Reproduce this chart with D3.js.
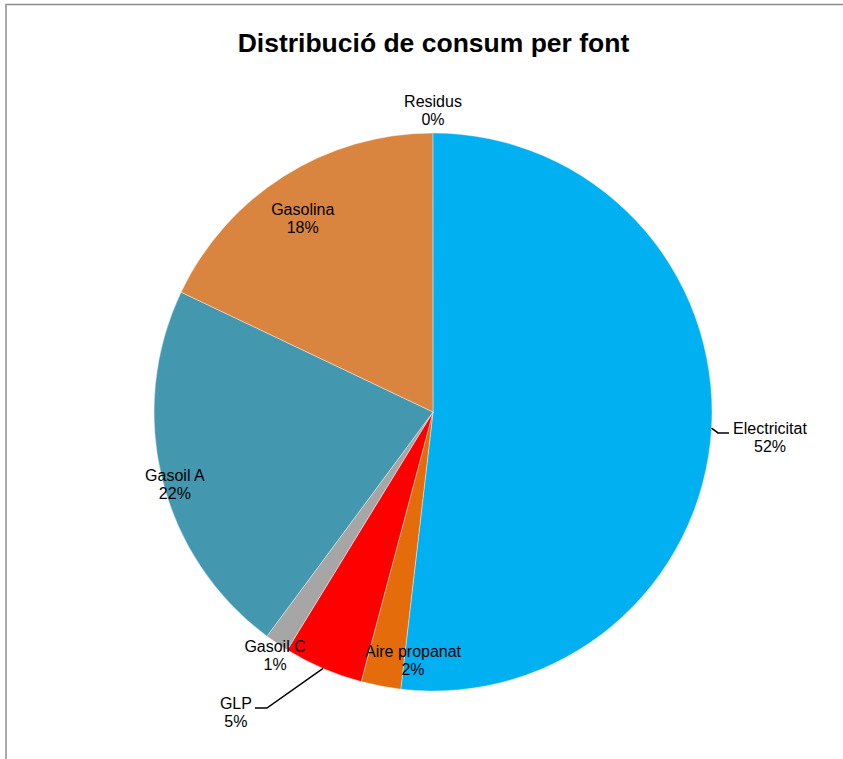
<!DOCTYPE html>
<html>
<head>
<meta charset="utf-8">
<script src="https://cdn.jsdelivr.net/npm/d3@7"></script>
<style>
  html, body { margin: 0; padding: 0; background: #fff; }
  svg { display: block; }
</style>
</head>
<body>
<svg id="chart" width="843" height="759"></svg>
<script>
// ---- data ----
const categories = ["Electricitat", "Aire propanat", "GLP", "Gasoil C", "Gasoil A", "Gasolina", "Residus"];
const values = [51.8, 2.3, 4.6, 1.4, 21.9, 17.9, 0.02];
const colors = ["#00B0F0", "#E46C0A", "#FF0000", "#A6A6A6", "#4398B0", "#DA853F", "#7F7F7F"];
const title = "Distribució de consum per font";

// ---- layout (label placement: angle in degrees clockwise from top, distance from centre) ----
const labelLayout = [
  { a: 94.4, d: 338, leader: [[-52, -5], [-41, -5]] },
  { a: 184.6, d: 249 },
  { a: 213.3, d: 359, leader: [[31, -4], [19, -4]] },
  { a: 213.0, d: 290 },
  { a: 254.4, d: 268 },
  { a: 326.0, d: 233 },
  { a: 0, d: 302 }
];

const svg = d3.select("#chart");
const W = 843, H = 759;
const cx = 433, cy = 412, R = 279;
const font = "Arial, 'Liberation Sans', sans-serif";

// outer frame
svg.append("rect")
  .attr("x", 6).attr("y", 4.5)
  .attr("width", W + 10).attr("height", H + 10)
  .attr("fill", "#fff")
  .attr("stroke", "#8c8c8c")
  .attr("stroke-width", 1.5);

// title
svg.append("text")
  .attr("x", 433.5).attr("y", 52)
  .attr("text-anchor", "middle")
  .attr("font-family", font)
  .attr("font-weight", "bold")
  .attr("font-size", 26.5)
  .attr("fill", "#000")
  .text(title);

const data = categories.map((c, i) => ({ name: c, value: values[i], color: colors[i], layout: labelLayout[i] }));
const total = d3.sum(values);

const pie = d3.pie().sort(null).value(d => d.value);
const arcs = pie(data);
const arc = d3.arc().innerRadius(0).outerRadius(R);

const g = svg.append("g").attr("transform", `translate(${cx},${cy})`);

g.selectAll("path.slice")
  .data(arcs)
  .enter().append("path")
  .attr("class", "slice")
  .attr("d", arc)
  .attr("fill", d => d.data.color)
  .attr("stroke", d => d.data.value < 0.1 ? "none" : "#fff")
  .attr("stroke-width", 0.4);

const polar = (angDeg, dist) => {
  const a = angDeg * Math.PI / 180;
  return [Math.sin(a) * dist, -Math.cos(a) * dist];
};

// leader lines
arcs.forEach(d => {
  const L = d.data.layout;
  if (!L.leader) return;
  const mid = (d.startAngle + d.endAngle) / 2;
  const start = [Math.sin(mid) * R, -Math.cos(mid) * R];
  const c = polar(L.a, L.d);
  const pts = [start].concat(L.leader.map(p => [c[0] + p[0], c[1] + p[1]]));
  g.append("path")
    .attr("d", d3.line()(pts))
    .attr("fill", "none")
    .attr("stroke", "#000")
    .attr("stroke-width", 1.5);
});

// labels
arcs.forEach(d => {
  const L = d.data.layout;
  const c = polar(L.a, L.d);
  const pct = Math.round(d.data.value / total * 100) + "%";
  const t = g.append("text")
    .attr("font-family", font)
    .attr("font-size", 16)
    .attr("fill", "#000")
    .attr("text-anchor", "middle");
  t.append("tspan").attr("x", c[0]).attr("y", c[1] - 9).attr("dominant-baseline", "central").text(d.data.name);
  t.append("tspan").attr("x", c[0]).attr("y", c[1] + 9).attr("dominant-baseline", "central").text(pct);
});
</script>
</body>
</html>
